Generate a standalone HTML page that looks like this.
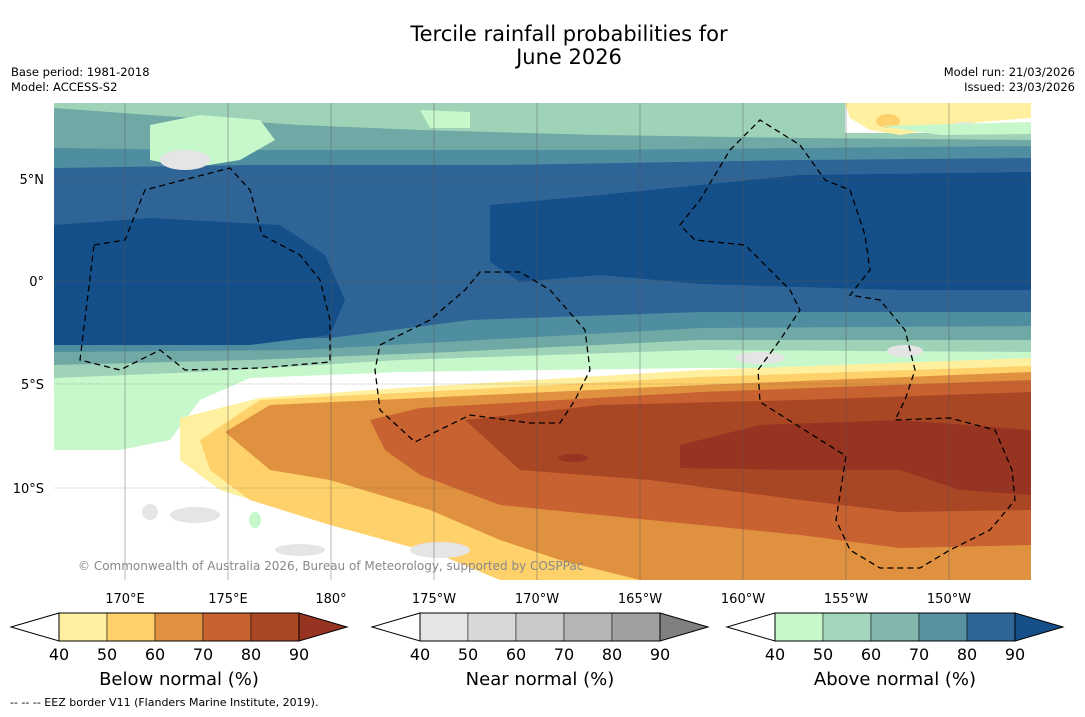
<!DOCTYPE html>
<html><head><meta charset="utf-8"><style>
body{margin:0;background:#fff;width:1085px;height:713px;overflow:hidden;font-family:"DejaVu Sans","Liberation Sans",sans-serif}
svg text{font-family:"DejaVu Sans","Liberation Sans",sans-serif}
</style></head><body>
<svg width="1085" height="713">
<text x="569" y="41" font-size="21" text-anchor="middle">Tercile rainfall probabilities for</text>
<text x="569" y="64" font-size="21" text-anchor="middle">June 2026</text>
<text x="11" y="76" font-size="11.5">Base period: 1981-2018</text>
<text x="11" y="91" font-size="11.5">Model: ACCESS-S2</text>
<text x="1075" y="76" font-size="11.5" text-anchor="end">Model run: 21/03/2026</text>
<text x="1075" y="91" font-size="11.5" text-anchor="end">Issued: 23/03/2026</text>
<defs><clipPath id="mc"><rect x="54" y="103" width="977" height="477"/></clipPath></defs>
<g clip-path="url(#mc)">
<rect x="54" y="103" width="977" height="477" fill="#fff"/>
<path d="M54 103H1031V370L700 368L400 372L250 378L200 400L170 440L120 450L54 450Z" fill="#c7f8cb"/>
<path d="M54 103H845L850 120L1031 125V352L700 350L400 360L200 372L54 378Z" fill="#9ed3b8"/>
<path d="M54 108L150 115L300 125L420 130L600 135L800 138L1031 140V340L700 340L450 352L250 360L54 365Z" fill="#6fa8a4"/>
<path d="M54 148L200 150L400 150L600 150L800 148L1031 146V326L700 328L480 340L300 350L54 352Z" fill="#4f8ea0"/>
<path d="M54 168L250 165L500 165L800 160L1031 158V312L700 312L470 320L330 338L54 340Z" fill="#2f6497"/>
<path d="M54 225L150 218L280 225L325 255L345 300L330 335L250 345L54 345Z" fill="#154f8a"/>
<path d="M490 205L600 195L800 175L1031 172V290L900 290L700 284L600 275L520 282L490 262Z" fill="#154f8a"/>
<path d="M150 125L200 115L260 120L275 140L240 160L190 168L150 160Z" fill="#c7f8cb"/>
<ellipse cx="185" cy="160" rx="25" ry="10" fill="#e5e5e5"/>
<path d="M420 110L470 112L470 128L430 128Z" fill="#c7f8cb"/>
<rect x="845" y="103" width="186" height="30" fill="#fff"/>
<path d="M845 103H1031V118L980 122L900 135L870 130L850 118Z" fill="#fff0a0"/>
<ellipse cx="888" cy="121" rx="12" ry="7" fill="#fed16a"/>
<ellipse cx="965" cy="127" rx="15" ry="5" fill="#e5e5e5"/>
<path d="M880 126L1031 122V134L940 135Z" fill="#c7f8cb"/>
<ellipse cx="760" cy="358" rx="25" ry="6" fill="#e5e5e5"/>
<ellipse cx="905" cy="351" rx="18" ry="6" fill="#e5e5e5"/>
<path d="M180 418L260 398L400 388L700 370L1031 358V580H510L420 548L300 515L220 490L180 460Z" fill="#fff0a0"/>
<path d="M200 440L260 400L420 392L700 377L1031 366V580H500L440 555L330 525L250 500L210 470Z" fill="#fed16a"/>
<path d="M225 432L270 405L420 398L700 385L1031 372V580H640L560 560L500 540L430 510L330 480L270 470Z" fill="#e0913f"/>
<path d="M370 420L420 408L700 392L1031 380V545L900 548L800 535L650 520L500 505L420 475L385 450Z" fill="#c86230"/>
<path d="M465 420L600 405L800 400L1031 392V510L900 512L800 500L650 480L520 470Z" fill="#a94623"/>
<path d="M680 445L760 425L900 420L1031 430V495L960 490L900 470L800 470L680 468Z" fill="#973321"/>
<ellipse cx="573" cy="458" rx="15" ry="4" fill="#973321"/>
<ellipse cx="195" cy="515" rx="25" ry="8" fill="#e5e5e5"/>
<ellipse cx="150" cy="512" rx="8" ry="8" fill="#e5e5e5"/>
<ellipse cx="300" cy="550" rx="25" ry="6" fill="#e5e5e5"/>
<ellipse cx="440" cy="550" rx="30" ry="8" fill="#e5e5e5"/>
<ellipse cx="255" cy="520" rx="6" ry="8" fill="#c7f8cb"/>
<g stroke="#555" stroke-width="0.6" opacity="0.7">
<line x1="125" y1="103" x2="125" y2="580"/><line x1="228" y1="103" x2="228" y2="580"/><line x1="331" y1="103" x2="331" y2="580"/><line x1="434" y1="103" x2="434" y2="580"/><line x1="537" y1="103" x2="537" y2="580"/><line x1="640" y1="103" x2="640" y2="580"/><line x1="743" y1="103" x2="743" y2="580"/><line x1="846" y1="103" x2="846" y2="580"/><line x1="949" y1="103" x2="949" y2="580"/>
<line x1="54" y1="179" x2="1031" y2="179"/><line x1="54" y1="281" x2="1031" y2="281"/><line x1="54" y1="384" x2="1031" y2="384" stroke-dasharray="1 1"/><line x1="54" y1="488" x2="1031" y2="488" stroke-dasharray="1 1"/>
</g>
<g fill="none" stroke="#000" stroke-width="1.3" stroke-dasharray="6 4">
<path d="M94 245L125 240L145 190L230 168L250 190L262 235L300 255L320 280L330 320L330 362L260 368L185 370L160 350L120 370L80 360Z"/>
<path d="M380 345L430 320L465 290L480 272L520 272L550 290L585 330L590 370L575 400L560 423L530 423L470 415L415 442L380 410L375 370Z"/>
<path d="M680 225L700 200L730 150L760 120L800 145L825 180L850 190L865 235L870 270L850 295L880 300L905 330L915 370L905 400L895 420L950 418L995 430L1012 470L1015 500L990 530L950 550L920 568L880 568L850 550L836 520L846 456L760 402L758 370L780 340L800 310L790 290L760 260L745 245L695 240Z"/>
</g>
<text x="78" y="570" font-size="12" fill="#888">© Commonwealth of Australia 2026, Bureau of Meteorology, supported by COSPPac</text>
</g>
<g font-size="13" text-anchor="middle">
<text x="125" y="603">170°E</text><text x="228" y="603">175°E</text><text x="331" y="603">180°</text><text x="434" y="603">175°W</text><text x="537" y="603">170°W</text><text x="640" y="603">165°W</text><text x="743" y="603">160°W</text><text x="846" y="603">155°W</text><text x="949" y="603">150°W</text>
</g>
<g font-size="13" text-anchor="end">
<text x="44" y="184">5°N</text><text x="44" y="286">0°</text><text x="44" y="389">5°S</text><text x="44" y="493">10°S</text>
</g>
<g id="cbars"></g>
<text x="10" y="706" font-size="11">-- -- -- EEZ border V11 (Flanders Marine Institute, 2019).</text>
</svg>
<script>
const ticks=["40","50","60","70","80","90"];
const belowColors=["#fff0a0","#fed16a","#e0913f","#c86230","#a94623"];
const nearColors=["#e5e5e5","#d8d8d8","#c9c9c9","#b5b5b5","#a0a0a0"];
const aboveColors=["#c7f8cb","#a3d7bd","#82b7ae","#5890a0","#2f6497"];
const extColors=["#973321","#808080","#154f8a"];
const titles=["Below normal (%)","Near normal (%)","Above normal (%)"];
const names=["below","near","above"];
const sets=[belowColors,nearColors,aboveColors];
const lefts=[11,372,727];
const g=document.getElementById('cbars');
const NS="http://www.w3.org/2000/svg";
function mk(t,a){const e=document.createElementNS(NS,t);for(const k in a)e.setAttribute(k,a[k]);g.appendChild(e);return e;}
sets.forEach((cols,i)=>{
 const x0=lefts[i],y0=613,h=28,cw=48,c0=x0+48;
 const l=mk('polygon',{points:`${c0},${y0} ${x0},${y0+h/2} ${c0},${y0+h}`,fill:'#fff',stroke:'#000','stroke-width':1});
 
 
 cols.forEach((c,j)=>{
  const r=mk('rect',{x:c0+j*cw,y:y0,width:cw,height:h,fill:c,stroke:'#000','stroke-width':0.5});
  
  
 });
 const e=c0+cols.length*cw;
 const rt=mk('polygon',{points:`${e},${y0} ${e+48},${y0+h/2} ${e},${y0+h}`,fill:extColors[i],stroke:'#000','stroke-width':1});
 
 
 const b=mk('rect',{x:c0,y:y0,width:cols.length*cw,height:h,fill:'none',stroke:'#000','stroke-width':1});
 
 
 ticks.forEach((t,j)=>{
  const tx=mk('text',{x:c0+j*cw,y:660,'font-size':16,'text-anchor':'middle'});tx.textContent=t;
  
  
 });
 const tt=mk('text',{x:c0+cols.length*cw/2,y:685,'font-size':18,'text-anchor':'middle'});tt.textContent=titles[i];
 
 
});
</script>
</body></html>
